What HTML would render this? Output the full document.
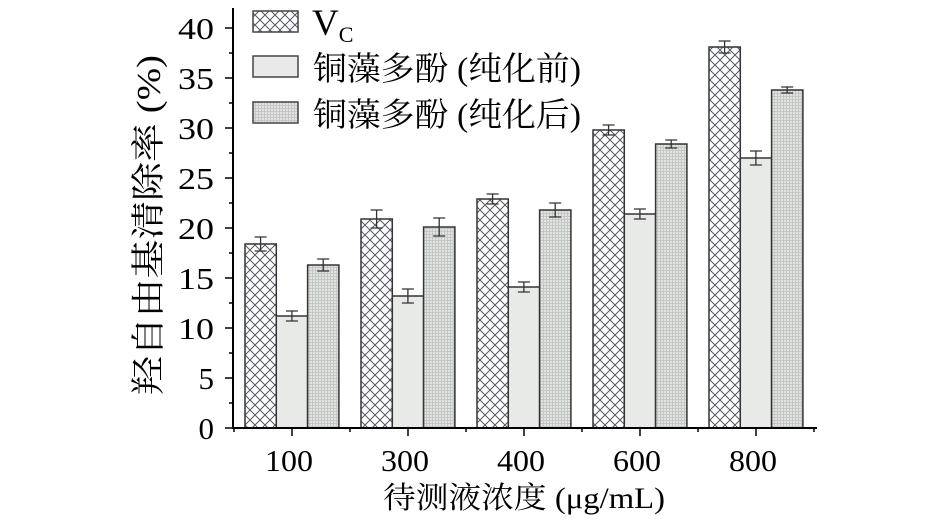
<!DOCTYPE html>
<html><head><meta charset="utf-8"><style>html,body{margin:0;padding:0;background:#fff}svg{display:block}</style></head>
<body>
<svg width="945" height="522" viewBox="0 0 945 522" xmlns="http://www.w3.org/2000/svg" font-family="'Liberation Serif','Noto Serif CJK SC',serif">
<defs>
<pattern id="hx" width="10" height="10" patternUnits="userSpaceOnUse">
<rect width="10" height="10" fill="#fff"/>
<path d="M0,0L10,10M10,0L0,10" stroke="#555a66" stroke-width="1"/>
</pattern>
<pattern id="pre" width="4" height="4" patternUnits="userSpaceOnUse">
<rect width="4" height="4" fill="#e8eae8"/>
</pattern>
<pattern id="post" width="3" height="3" patternUnits="userSpaceOnUse">
<rect width="3" height="3" fill="#e2e4e2"/>
<path d="M0,0.5H3M0.5,0V3" stroke="#c4c8c4" stroke-width="1"/>
</pattern>
</defs>
<g id="bars" stroke="#333" stroke-width="1.5"></g>
<g id="axes" stroke="#000" stroke-width="2" fill="none">
<line x1="233" y1="8" x2="233" y2="428"/>
<line x1="232" y1="428" x2="817" y2="428"/>
</g>
<g id="ticks" stroke="#000" stroke-width="1.5"></g>
<g id="labels" font-size="31" fill="#000"></g>
<g font-size="33" fill="#000">
<rect x="253" y="11" width="45" height="21" fill="url(#hx)" stroke="#444" stroke-width="1.5"/>
<text x="312" y="35" font-size="37">V<tspan font-size="22" dy="7">C</tspan></text>
<rect x="253" y="56" width="45" height="21" fill="url(#pre)" stroke="#444" stroke-width="1.5"/>
<text x="313" y="80" textLength="268" lengthAdjust="spacingAndGlyphs" font-family="'Noto Serif CJK SC','Liberation Serif',serif">铜藻多酚 <tspan font-family="'Liberation Serif',serif">(</tspan>纯化前<tspan font-family="'Liberation Serif',serif">)</tspan></text>
<rect x="253" y="102" width="45" height="21" fill="url(#post)" stroke="#444" stroke-width="1.5"/>
<text x="313" y="126" textLength="268" lengthAdjust="spacingAndGlyphs" font-family="'Noto Serif CJK SC','Liberation Serif',serif">铜藻多酚 <tspan font-family="'Liberation Serif',serif">(</tspan>纯化后<tspan font-family="'Liberation Serif',serif">)</tspan></text>
<text transform="translate(160,225) rotate(-90)" text-anchor="middle" font-size="34" textLength="340" lengthAdjust="spacingAndGlyphs" font-family="'Noto Serif CJK SC','Liberation Serif',serif">羟自由基清除率 <tspan font-family="'Liberation Serif',serif">(%)</tspan></text>
<text x="524" y="508" text-anchor="middle" font-size="30" textLength="282" lengthAdjust="spacingAndGlyphs" font-family="'Noto Serif CJK SC','Liberation Serif',serif">待测液浓度 <tspan font-family="'Liberation Serif',serif">(μg/mL)</tspan></text>
</g>
<script>
const ns="http://www.w3.org/2000/svg";
function el(p,t,a){const e=document.createElementNS(ns,t);for(const k in a)e.setAttribute(k,a[k]);p.appendChild(e);return e;}
const bars=document.getElementById('bars'),ticks=document.getElementById('ticks'),labels=document.getElementById('labels');
const Y=v=>428-v*10;
const centers=[292,408,524,640,756],names=['100','300','400','600','800'];
const data=[[18.4,11.2,16.3],[20.9,13.2,20.1],[22.9,14.1,21.8],[29.8,21.4,28.4],[38.1,27.0,33.8]];
const err=[[0.7,0.5,0.6],[0.9,0.7,0.9],[0.5,0.5,0.7],[0.5,0.5,0.4],[0.6,0.7,0.3]];
const fills=['url(#hx)','url(#pre)','url(#post)'];
centers.forEach((c,i)=>{for(let j=0;j<3;j++){const x=c-47+j*31.3,v=data[i][j];
el(bars,'rect',{x:x,y:Y(v),width:31.3,height:Y(0)-Y(v),fill:fills[j]});
const cx=x+15.6,e=err[i][j];
el(bars,'path',{d:`M${cx},${Y(v+e)}V${Y(v-e)}M${cx-6},${Y(v+e)}H${cx+6}M${cx-6},${Y(v-e)}H${cx+6}`,stroke:'#333','stroke-width':1.3,fill:'none'});}
el(ticks,'line',{x1:c,y1:428,x2:c,y2:436});
const t=el(labels,'text',{x:c-3,y:471,'text-anchor':'middle',textLength:48,lengthAdjust:'spacingAndGlyphs'});t.textContent=names[i];
});
[234,350,466,582,698,814].forEach(x=>el(ticks,'line',{x1:x,y1:428,x2:x,y2:432}));
for(let v=0;v<=40;v+=5){el(ticks,'line',{x1:225,y1:Y(v),x2:233,y2:Y(v)});
if(v<40)el(ticks,'line',{x1:229,y1:Y(v+2.5),x2:233,y2:Y(v+2.5)});
const a={x:214,y:Y(v)+11,'text-anchor':'end'};if(v>=10){a.textLength=36;a.lengthAdjust='spacingAndGlyphs';}
const t=el(labels,'text',a);t.textContent=v;}
</script>
</svg>
</body></html>
